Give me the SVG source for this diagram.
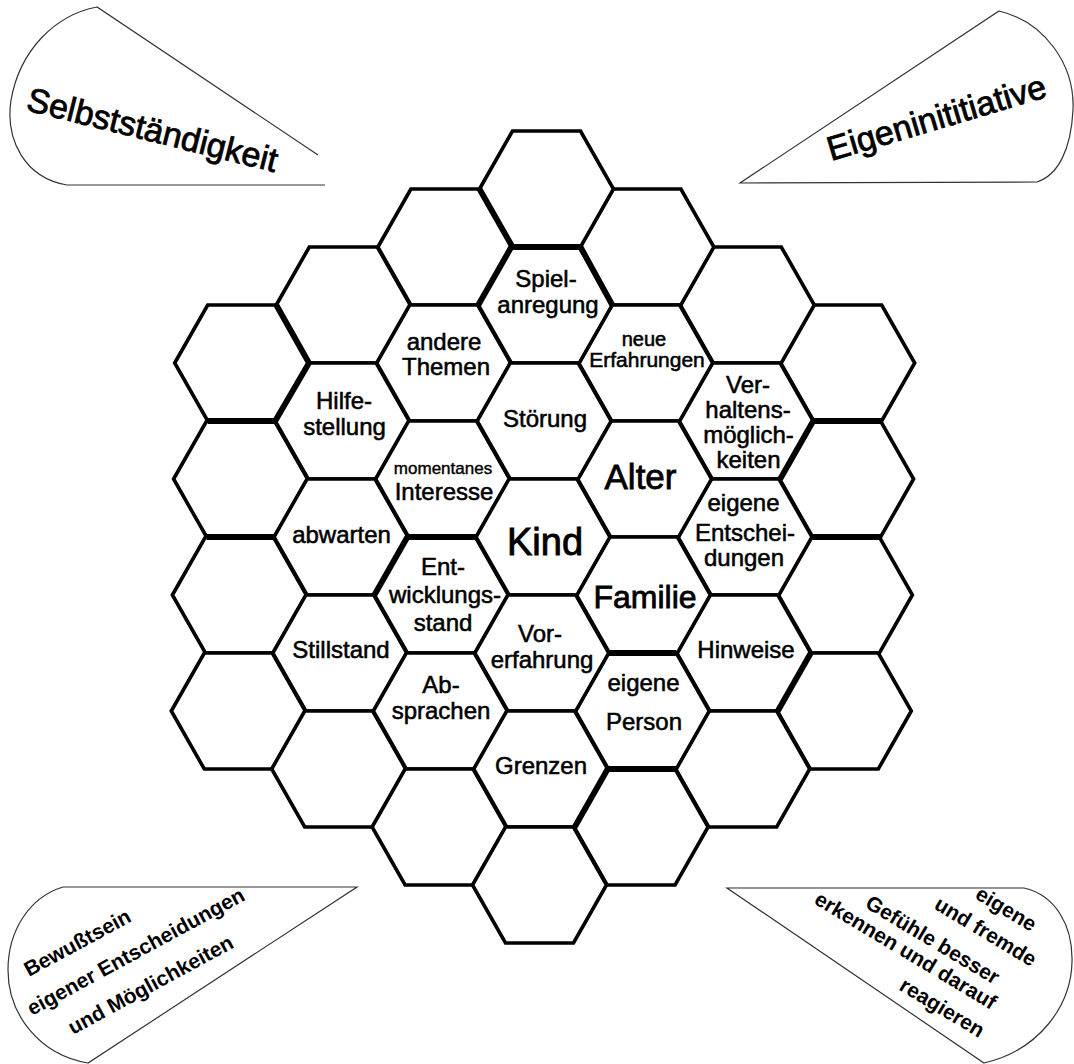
<svg xmlns="http://www.w3.org/2000/svg" xmlns:xlink="http://www.w3.org/1999/xlink" width="1074" height="1064" viewBox="0 0 1074 1064">
<style>
.hex{fill:#fff;stroke:#000;stroke-width:3.6;stroke-linejoin:miter}
.thick{fill:none;stroke:#000;stroke-width:5.8;stroke-linejoin:miter;stroke-linecap:butt}
.t{font-family:"Liberation Sans",Arial,sans-serif;font-size:24px;text-anchor:middle;fill:#000;stroke:#000;stroke-width:0.55}
.corner{fill:#fff;stroke:#333;stroke-width:1.2}
.ct{font-family:"Liberation Sans",Arial,sans-serif;font-size:21px;font-weight:bold;fill:#000}
.big{font-family:"Liberation Sans",Arial,sans-serif;font-size:34px;fill:#000;stroke:#000;stroke-width:0.8}
</style>
<defs>
<polygon id="hx" points="-67,0 -34,-58 34,-58 67,0 34,58 -34,58"/>
</defs>
<rect width="1074" height="1064" fill="#fff"/>

<g id="corners">
<g id="corner-tl">
<path class="corner" d="M318,155 L97,7 C55,15 20,50 11,100 C5,140 25,178 67,185 L325,185"/>
<text class="big" transform="translate(25,110) rotate(14)">Selbstständigkeit</text>
</g>
<g id="corner-tr">
<path class="corner" d="M1037,182 L740,183 L999,11 C1045,22 1075,65 1073,110 C1071,150 1058,175 1037,182"/>
<text class="big" transform="translate(831,161) rotate(-16.5)">Eigeninititiative</text>
</g>
<g id="corner-bl">
<path class="corner" d="M357,887 L63,887 C30,897 8,930 8,970 C8,1015 40,1055 88,1063 Z"/>
<text class="ct" transform="translate(29,977) rotate(-28.5)">Bewußtsein</text>
<text class="ct" transform="translate(32,1016) rotate(-28.5)">eigener Entscheidungen</text>
<text class="ct" transform="translate(73,1035) rotate(-28.5)">und Möglichkeiten</text>
</g>
<g id="corner-br">
<path class="corner" d="M727,888 L1024,888 C1055,895 1073,925 1072,962 C1071,1005 1040,1050 984,1063 Z"/>
<text class="ct" text-anchor="end" transform="translate(1031,932) rotate(31)">eigene</text>
<text class="ct" text-anchor="end" transform="translate(1031,967) rotate(31)">und fremde</text>
<text class="ct" text-anchor="end" transform="translate(994,985) rotate(31)">Gefühle besser</text>
<text class="ct" text-anchor="end" transform="translate(991,1010) rotate(31)">erkennen und darauf</text>
<text class="ct" text-anchor="end" transform="translate(979,1038) rotate(31)">reagieren</text>
</g>
</g>

<g id="hexgrid">
<!-- column -3 -->
<g id="h-m3-1"><use href="#hx" class="hex" x="241.7" y="363"/></g>
<g id="h-m3-2"><use href="#hx" class="hex" x="240.6" y="479"/></g>
<g id="h-m3-3"><use href="#hx" class="hex" x="239.4" y="595"/></g>
<g id="h-m3-4"><use href="#hx" class="hex" x="238.3" y="711"/></g>
<!-- column +3 -->
<g id="h-p3-1"><use href="#hx" class="hex" x="847.7" y="363"/></g>
<g id="h-p3-2"><use href="#hx" class="hex" x="846.6" y="479"/></g>
<g id="h-p3-3"><use href="#hx" class="hex" x="845.4" y="595"/></g>
<g id="h-p3-4"><use href="#hx" class="hex" x="844.3" y="711"/></g>
<!-- column -2 -->
<g id="h-m2-1"><use href="#hx" class="hex" x="343.3" y="305"/></g>
<g id="hilfestellung"><use href="#hx" class="hex" x="342.2" y="421"/>
<text class="t" x="344" y="409">Hilfe-</text><text class="t" x="344.5" y="435">stellung</text></g>
<g id="abwarten"><use href="#hx" class="hex" x="341" y="537"/>
<text class="t" x="341.5" y="543">abwarten</text></g>
<g id="stillstand"><use href="#hx" class="hex" x="339.8" y="653"/>
<text class="t" x="341" y="658">Stillstand</text></g>
<g id="h-m2-5"><use href="#hx" class="hex" x="338.7" y="769"/></g>
<!-- column +2 -->
<g id="h-p2-1"><use href="#hx" class="hex" x="747.3" y="305"/></g>
<g id="verhaltensmoeglichkeiten"><use href="#hx" class="hex" x="746.2" y="421"/>
<text class="t" x="748" y="393">Ver-</text><text class="t" x="748" y="418">haltens-</text><text class="t" x="748.5" y="443">möglich-</text><text class="t" x="748.5" y="468">keiten</text></g>
<g id="eigene-entscheidungen"><use href="#hx" class="hex" x="745" y="537"/>
<text class="t" x="743.5" y="511">eigene</text><text class="t" x="745" y="541">Entschei-</text><text class="t" x="744" y="566">dungen</text></g>
<g id="hinweise"><use href="#hx" class="hex" x="743.8" y="653"/>
<text class="t" x="746" y="658">Hinweise</text></g>
<g id="h-p2-5"><use href="#hx" class="hex" x="742.7" y="769"/></g>
<!-- column -1 -->
<g id="h-m1-1"><use href="#hx" class="hex" x="444.9" y="247"/></g>
<g id="andere-themen"><use href="#hx" class="hex" x="443.7" y="363"/>
<text class="t" x="444" y="350">andere</text><text class="t" x="446" y="375">Themen</text></g>
<g id="momentanes-interesse"><use href="#hx" class="hex" x="442.6" y="479"/>
<text class="t" x="443" y="474" style="font-size:17px;stroke-width:0.4">momentanes</text><text class="t" x="444" y="500">Interesse</text></g>
<g id="entwicklungsstand"><use href="#hx" class="hex" x="441.4" y="595"/>
<text class="t" x="443" y="575">Ent-</text><text class="t" x="445" y="603">wicklungs-</text><text class="t" x="443" y="631">stand</text></g>
<g id="absprachen"><use href="#hx" class="hex" x="440.3" y="711"/>
<text class="t" x="441" y="693">Ab-</text><text class="t" x="441" y="719">sprachen</text></g>
<g id="h-m1-6"><use href="#hx" class="hex" x="439.1" y="827"/></g>
<!-- column +1 -->
<g id="h-p1-1"><use href="#hx" class="hex" x="646.9" y="247"/></g>
<g id="neue-erfahrungen"><use href="#hx" class="hex" x="645.7" y="363"/>
<text class="t" x="644" y="346" style="font-size:20px">neue</text><text class="t" x="647" y="367" style="font-size:21px">Erfahrungen</text></g>
<g id="alter"><use href="#hx" class="hex" x="644.6" y="479"/>
<text class="t" x="640.5" y="489" style="font-size:35px;stroke-width:0.8">Alter</text></g>
<g id="familie"><use href="#hx" class="hex" x="643.4" y="595"/>
<text class="t" x="645" y="608" style="font-size:32px;stroke-width:0.8">Familie</text></g>
<g id="eigene-person"><use href="#hx" class="hex" x="642.3" y="711"/>
<text class="t" x="643.5" y="691">eigene</text><text class="t" x="644" y="730">Person</text></g>
<g id="h-p1-6"><use href="#hx" class="hex" x="641.1" y="827"/></g>
<!-- column 0 -->
<g id="h-0-top"><use href="#hx" class="hex" x="546.5" y="189"/></g>
<g id="spielanregung"><use href="#hx" class="hex" x="545.3" y="305"/>
<text class="t" x="546" y="287">Spiel-</text><text class="t" x="548" y="313">anregung</text></g>
<g id="stoerung"><use href="#hx" class="hex" x="544.2" y="421"/>
<text class="t" x="545" y="427">Störung</text></g>
<g id="kind"><use href="#hx" class="hex" x="543" y="537"/>
<text class="t" x="545" y="555" style="font-size:38px;stroke-width:0.9">Kind</text></g>
<g id="vorerfahrung"><use href="#hx" class="hex" x="541.8" y="653"/>
<text class="t" x="540" y="642">Vor-</text><text class="t" x="542" y="668">erfahrung</text></g>
<g id="grenzen"><use href="#hx" class="hex" x="540.7" y="769"/>
<text class="t" x="541" y="774">Grenzen</text></g>
<g id="h-0-bottom"><use href="#hx" class="hex" x="539.5" y="885"/></g>
</g>

<g id="grid-heavy-edges">
<path class="thick" d="M479.5,189 L512.5,247 L580.5,247 L612.3,305"/>
<path class="thick" d="M478.3,305 L511.3,247"/>
<path class="thick" d="M207.7,421 L275.7,421"/>
<path class="thick" d="M206.6,537 L274.6,537"/>
<path class="thick" d="M276.3,305 L309,363 L275.2,421"/>
<path class="thick" d="M408.6,537 L476.6,537"/>
<path class="thick" d="M407.4,537 L374.4,595"/>
<path class="thick" d="M812.6,537 L880.6,537"/>
<path class="thick" d="M813.7,421 L881.7,421"/>
<path class="thick" d="M813.2,421 L780.2,479"/>
<path class="thick" d="M810.8,653 L777.8,711"/>
<path class="thick" d="M608.3,653 L676.3,653"/>
<path class="thick" d="M608.3,769 L676.3,769"/>
<path class="thick" d="M607.7,769 L574.7,827"/>
</g>
</svg>
